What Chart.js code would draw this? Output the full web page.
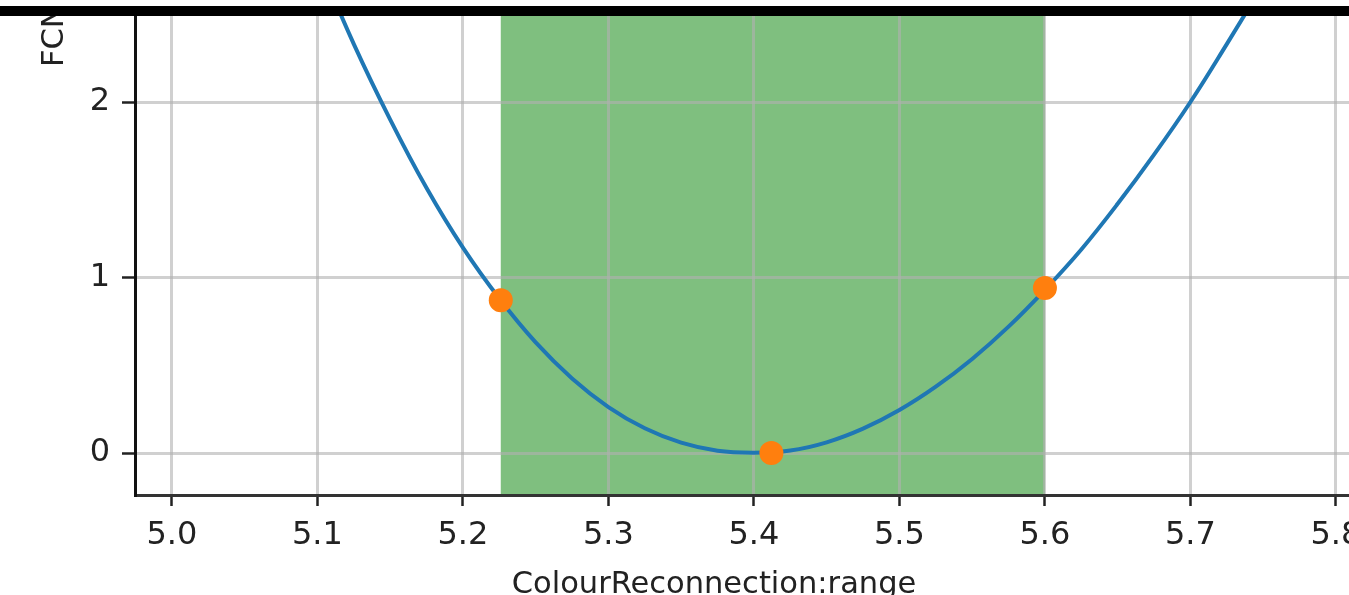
<!DOCTYPE html>
<html>
<head>
<meta charset="utf-8">
<script src="https://cdn.jsdelivr.net/npm/chart.js@4"></script>
<style>
  html, body { margin: 0; padding: 0; background: #fff; overflow: hidden; }
  #wrap { position: relative; width: 1349px; height: 595px; }
  #chart { position: absolute; left: 0; top: 0; }
  #topbar { position: absolute; left: 0; top: 0; width: 1349px; height: 6px; background: #fff; }
  #bar { position: absolute; left: 0; top: 6px; width: 1349px; height: 10px; background: #000; }
</style>
</head>
<body>
<div id="wrap">
  <canvas id="chart" width="1349" height="595"></canvas>
  <div id="topbar"></div>
  <div id="bar"></div>
</div>
<script>
// scan curve
const curveX = [5.10, 5.125, 5.15, 5.175, 5.20, 5.225, 5.25, 5.275, 5.30, 5.325, 5.35, 5.375, 5.40,
                5.425, 5.45, 5.475, 5.50, 5.525, 5.55, 5.575, 5.60, 5.625, 5.65, 5.675, 5.70, 5.725, 5.75];
const curveY = [2.81, 2.33, 1.90, 1.51, 1.17, 0.88, 0.63, 0.425, 0.262, 0.141, 0.059, 0.013, 0.002,
                0.014, 0.061, 0.139, 0.245, 0.378, 0.536, 0.72, 0.93, 1.16, 1.42, 1.70, 2.00, 2.33, 2.67];

// orange markers
const markX = [5.226, 5.412, 5.60];
const markY = [0.87, 0.0, 0.94];

// shaded interval
const spanRange = [5.226, 5.60];

const xTicks = [5.0, 5.1, 5.2, 5.3, 5.4, 5.5, 5.6, 5.7, 5.8];
const yTicks = [0, 1, 2];
const xLimits = [4.9746, 5.809];
const yLimits = [-0.239, 2.49];

const xLabel = 'ColourReconnection:range';
const yLabel = 'FCN';

const FONT = '"DejaVu Sans", sans-serif';
const GRID = 'rgba(176,176,176,0.6)';

// span is painted before the grid so the grid shows on top of it
const spanPlugin = {
    id: 'span',
    beforeDraw(chart) {
        const { ctx, chartArea, scales } = chart;
        const x0 = scales.x.getPixelForValue(spanRange[0]);
        const x1 = scales.x.getPixelForValue(spanRange[1]);
        ctx.save();
        ctx.fillStyle = 'rgba(0,128,0,0.5)';
        ctx.fillRect(x0, chartArea.top, x1 - x0, chartArea.bottom - chartArea.top);
        ctx.restore();
    }
};

// axis labels (the figure is cropped, so they sit off-centre)
const labelPlugin = {
    id: 'labels',
    afterDraw(chart) {
        const { ctx, chartArea } = chart;
        ctx.save();
        ctx.fillStyle = '#222';
        ctx.font = '30.5px ' + FONT;
        ctx.textAlign = 'center';
        ctx.textBaseline = 'alphabetic';
        ctx.fillText(xLabel, chartArea.left + 579, chartArea.bottom + 98);

        ctx.translate(55, 67);
        ctx.rotate(-Math.PI / 2);
        ctx.textAlign = 'left';
        ctx.textBaseline = 'middle';
        ctx.fillText(yLabel, 0, 0);
        ctx.restore();
    }
};

new Chart(document.getElementById('chart'), {
    type: 'line',
    data: {
        datasets: [
            {
                data: markX.map((x, i) => ({ x, y: markY[i] })),
                showLine: false,
                pointRadius: 12, pointHoverRadius: 12,
                pointBackgroundColor: '#ff7f0e', pointBorderWidth: 0,
                order: 0
            },
            {
                data: curveX.map((x, i) => ({ x, y: curveY[i] })),
                borderColor: '#1f77b4', borderWidth: 4,
                pointRadius: 0, tension: 0.4,
                fill: false, order: 1
            }
        ]
    },
    options: {
        responsive: false, animation: false, devicePixelRatio: 1,
        layout: { autoPadding: false, padding: { top: 16, left: 0, right: 0, bottom: 0 } },
        plugins: { legend: { display: false }, tooltip: { enabled: false } },
        scales: {
            x: {
                type: 'linear', min: xLimits[0], max: xLimits[1],
                afterBuildTicks: s => { s.ticks = xTicks.map(v => ({ value: v })); },
                afterFit: s => { s.height = 100; s.paddingLeft = 0; s.paddingRight = 0; },
                grid: { color: GRID, lineWidth: 3, tickColor: '#222', tickWidth: 2.5, tickLength: 11 },
                border: { color: '#333', width: 3 },
                ticks: { color: '#222', font: { family: FONT, size: 32 }, padding: 10, maxRotation: 0, autoSkip: false,
                         callback: v => v.toFixed(1) }
            },
            y: {
                type: 'linear', min: yLimits[0], max: yLimits[1],
                afterBuildTicks: s => { s.ticks = yTicks.map(v => ({ value: v })); },
                afterFit: s => { s.width = 135; s.paddingTop = 0; s.paddingBottom = 0; },
                grid: { color: GRID, lineWidth: 3, tickColor: '#222', tickWidth: 2.5, tickLength: 13 },
                border: { color: '#111', width: 3 },
                ticks: { color: '#222', font: { family: FONT, size: 32 }, padding: 12, autoSkip: false,
                         callback: v => String(v) }
            }
        }
    },
    plugins: [spanPlugin, labelPlugin]
});
</script>
</body>
</html>
